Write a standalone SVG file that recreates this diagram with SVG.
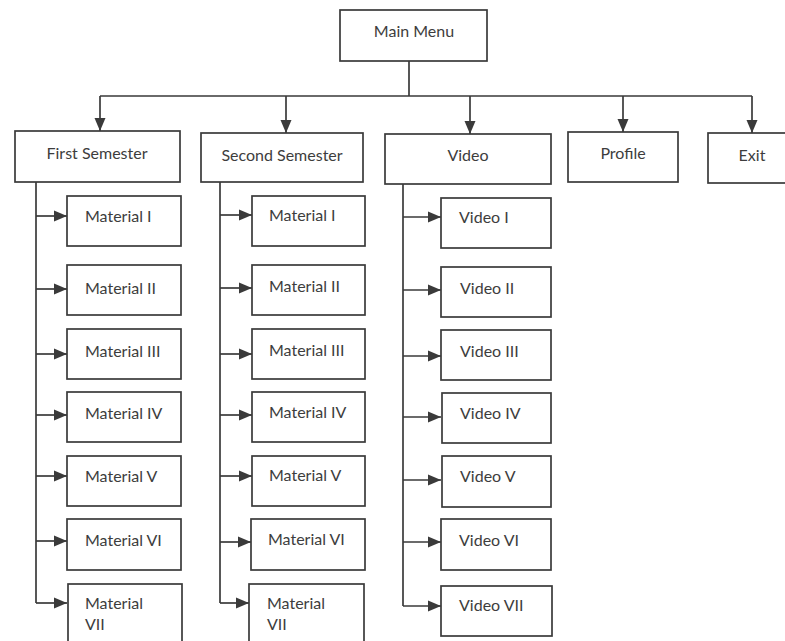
<svg xmlns="http://www.w3.org/2000/svg" width="785" height="641" viewBox="0 0 785 641">
<defs>
<marker id="ah" markerUnits="userSpaceOnUse" markerWidth="14" markerHeight="12" refX="13" refY="6" orient="auto">
<path d="M0,0.5 L13,6 L0,11.5 Z" fill="#3a3a3a"/>
</marker>
<style>
.box{fill:#fff;stroke:#3a3a3a;stroke-width:1.7}
.t{font-family:Lato,"Liberation Sans",sans-serif;font-size:16px;fill:#3d3d3d}
.c{text-anchor:middle}
.ln{fill:none;stroke:#3a3a3a;stroke-width:1.7}
.ar{fill:none;stroke:#3a3a3a;stroke-width:1.7;marker-end:url(#ah)}
</style>
</defs>
<rect width="785" height="641" fill="#fff"/>
<g id="connectors">
<path class="ln" d="M409,61 V96 M100,96 H752"/>
<path class="ar" d="M100,96 V131"/>
<path class="ar" d="M286,96 V133"/>
<path class="ar" d="M470,96 V134"/>
<path class="ar" d="M623,96 V132"/>
<path class="ar" d="M752,96 V133"/>
<path class="ln" d="M36,181 V603"/>
<path class="ar" d="M36,216 H67"/>
<path class="ar" d="M36,289 H67"/>
<path class="ar" d="M36,354 H67"/>
<path class="ar" d="M36,415 H67"/>
<path class="ar" d="M36,476 H67"/>
<path class="ar" d="M36,541 H67"/>
<path class="ar" d="M36,603 H67"/>
<path class="ln" d="M220,182 V603"/>
<path class="ar" d="M220,215 H252"/>
<path class="ar" d="M220,288 H252"/>
<path class="ar" d="M220,354 H252"/>
<path class="ar" d="M220,415 H252"/>
<path class="ar" d="M220,476 H252"/>
<path class="ar" d="M220,542 H251"/>
<path class="ar" d="M220,603 H249"/>
<path class="ln" d="M403,184 V606"/>
<path class="ar" d="M403,217 H441"/>
<path class="ar" d="M403,290 H441"/>
<path class="ar" d="M403,356 H441"/>
<path class="ar" d="M403,417 H441"/>
<path class="ar" d="M403,480 H441"/>
<path class="ar" d="M403,542 H441"/>
<path class="ar" d="M403,606 H441"/>
</g>
<g id="main-menu"><rect class="box" x="340" y="10" width="147" height="51"/><text class="t c" x="414" y="37">Main Menu</text></g>
<g id="first-semester"><rect class="box" x="15" y="131" width="165" height="51"/><text class="t c" x="97" y="159">First Semester</text></g>
<g id="second-semester"><rect class="box" x="201" y="133" width="162" height="49"/><text class="t c" x="282" y="161">Second Semester</text></g>
<g id="video"><rect class="box" x="385" y="134" width="166" height="50"/><text class="t c" x="468" y="161">Video</text></g>
<g id="profile"><rect class="box" x="568" y="132" width="110" height="50"/><text class="t c" x="623" y="159">Profile</text></g>
<g id="exit"><rect class="box" x="708" y="133" width="90" height="50"/><text class="t c" x="752" y="161">Exit</text></g>

<g id="m1-1"><rect class="box" x="67" y="196" width="114" height="50"/><text class="t" x="85" y="222">Material I</text></g>
<g id="m1-2"><rect class="box" x="67" y="265" width="114" height="50"/><text class="t" x="85" y="294">Material II</text></g>
<g id="m1-3"><rect class="box" x="67" y="329" width="114" height="50"/><text class="t" x="85" y="357">Material III</text></g>
<g id="m1-4"><rect class="box" x="67" y="392" width="114" height="50"/><text class="t" x="85" y="419">Material IV</text></g>
<g id="m1-5"><rect class="box" x="67" y="456" width="114" height="50"/><text class="t" x="85" y="482">Material V</text></g>
<g id="m1-6"><rect class="box" x="67" y="519" width="114" height="51"/><text class="t" x="85" y="546">Material VI</text></g>
<g id="m1-7"><rect class="box" x="68" y="584" width="114" height="70"/><text class="t" x="85" y="609">Material</text><text class="t" x="85" y="630">VII</text></g>

<g id="m2-1"><rect class="box" x="252" y="196" width="113" height="50"/><text class="t" x="269" y="221">Material I</text></g>
<g id="m2-2"><rect class="box" x="252" y="265" width="113" height="50"/><text class="t" x="269" y="292">Material II</text></g>
<g id="m2-3"><rect class="box" x="252" y="329" width="113" height="50"/><text class="t" x="269" y="356">Material III</text></g>
<g id="m2-4"><rect class="box" x="252" y="392" width="113" height="50"/><text class="t" x="269" y="418">Material IV</text></g>
<g id="m2-5"><rect class="box" x="252" y="456" width="113" height="50"/><text class="t" x="269" y="481">Material V</text></g>
<g id="m2-6"><rect class="box" x="251" y="519" width="114" height="51"/><text class="t" x="268" y="545">Material VI</text></g>
<g id="m2-7"><rect class="box" x="249" y="584" width="115" height="70"/><text class="t" x="267" y="609">Material</text><text class="t" x="267" y="630">VII</text></g>

<g id="v-1"><rect class="box" x="441" y="198" width="110" height="50"/><text class="t" x="459" y="223">Video I</text></g>
<g id="v-2"><rect class="box" x="441" y="267" width="110" height="50"/><text class="t" x="460" y="294">Video II</text></g>
<g id="v-3"><rect class="box" x="441" y="330" width="110" height="50"/><text class="t" x="460" y="357">Video III</text></g>
<g id="v-4"><rect class="box" x="442" y="393" width="109" height="50"/><text class="t" x="460" y="419">Video IV</text></g>
<g id="v-5"><rect class="box" x="442" y="456" width="109" height="51"/><text class="t" x="460" y="482">Video V</text></g>
<g id="v-6"><rect class="box" x="441" y="519" width="110" height="51"/><text class="t" x="459" y="546">Video VI</text></g>
<g id="v-7"><rect class="box" x="441" y="586" width="111" height="50"/><text class="t" x="459" y="611">Video VII</text></g>
</svg>
